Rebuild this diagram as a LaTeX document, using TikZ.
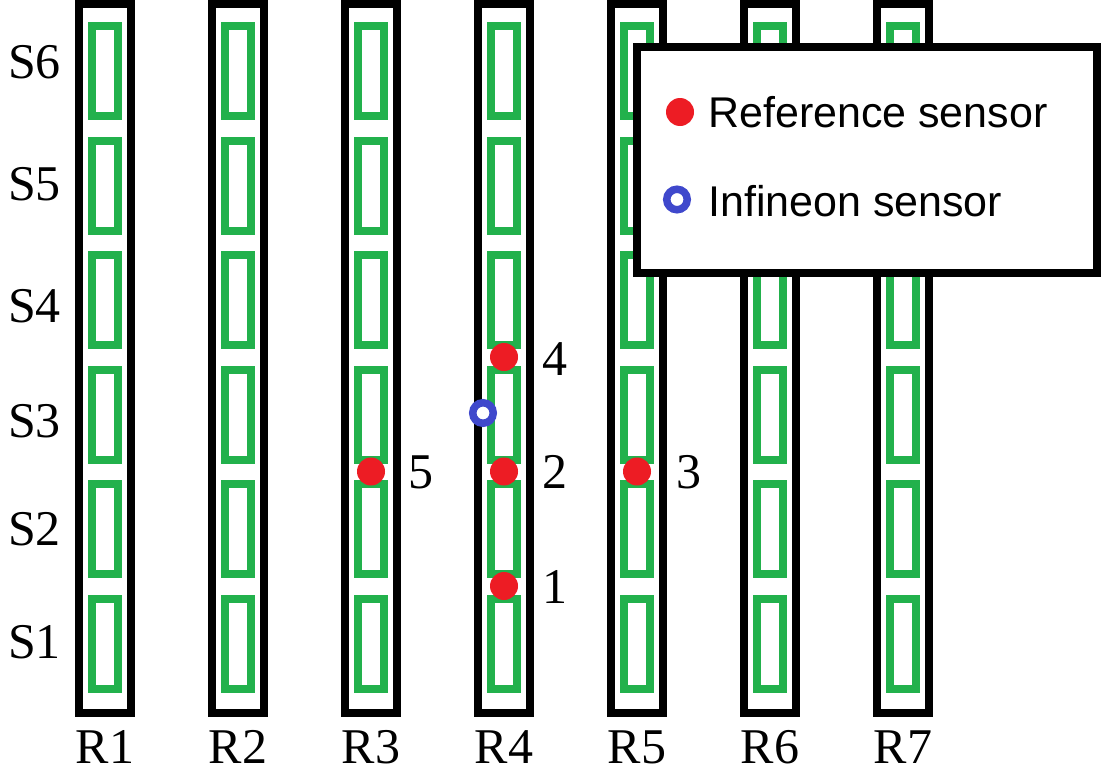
\documentclass[tikz,border=0pt]{standalone}
\usepackage{fontspec}
\setmainfont{Liberation Serif}
\newfontfamily\legendfont{Liberation Sans}
\definecolor{cellgreen}{HTML}{22B14C}
\definecolor{refred}{HTML}{ED1C24}
\definecolor{infblue}{HTML}{3F48CC}
\begin{document}
\begin{tikzpicture}[x=1pt,y=-1pt,
  rail/.style={draw=black,line width=8pt,fill=white},
  cell/.style={draw=cellgreen,line width=8pt},
  refdot/.style={circle,fill=refred,inner sep=0pt,minimum size=28pt},
  infdot/.style={circle,draw=infblue,line width=7.5pt,fill=white,inner sep=0pt,minimum size=20.5pt},
  lbl/.style={font=\fontsize{50}{60}\selectfont,inner sep=0pt},
  legtext/.style={font=\legendfont\fontsize{43}{50}\selectfont,inner sep=0pt,anchor=base west},
  legbox/.style={draw=black,line width=8pt,fill=white}]
\useasboundingbox (0,0) rectangle (1102,771);

% rows R1..R7, each with six green cells S1..S6
\foreach \i in {1,...,7}{
  \pgfmathsetmacro\cx{104.85+133*(\i-1)}
  \draw[rail] (\cx-26.15,3.5) rectangle (\cx+26.15,713);
  \foreach \k in {0,...,5}{
    \draw[cell] (\cx-12.75,26+114.5*\k) rectangle (\cx+12.75,116+114.5*\k);
  }
  \node[lbl,anchor=base] (r\i) at (\cx,763) {R\i};
}

% section labels
\foreach \s/\y in {6/78,5/200,4/322,3/437,2/545,1/658}
  \node[lbl,anchor=base west] (s\s) at (8,\y) {S\s};

% reference sensors
\node[refdot] (p4) at (504,357) {};
\node[refdot] (p2) at (504,471.5) {};
\node[refdot] (p1) at (504,586) {};
\node[refdot] (p5) at (371,471.5) {};
\node[refdot] (p3) at (637,471.5) {};
% infineon sensor
\node[infdot] (inf) at (483,413) {};

% sensor numbers
\node[lbl,anchor=base west] (n4) at (542,375) {4};
\node[lbl,anchor=base west] (n2) at (542,488) {2};
\node[lbl,anchor=base west] (n1) at (542,603) {1};
\node[lbl,anchor=base west] (n5) at (408,488) {5};
\node[lbl,anchor=base west] (n3) at (676,488) {3};

% legend
\draw[legbox] (636.7,46.7) rectangle (1096.5,273);
\node[refdot] (lr) at (680,112) {};
\node[infdot] (li) at (677,199.5) {};
\node[legtext] (lrt) at (708,127.7) {Reference sensor};
\node[legtext] (lit) at (708,216) {Infineon sensor};
\end{tikzpicture}
\end{document}
